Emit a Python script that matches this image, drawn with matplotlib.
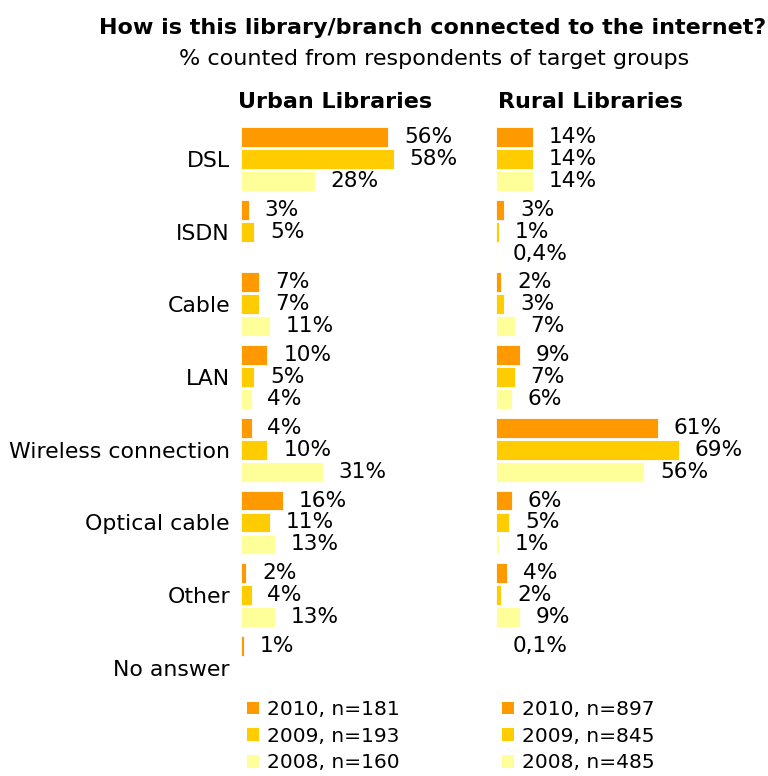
import numpy as np
import matplotlib
matplotlib.use("Agg")
import matplotlib.pyplot as plt
from matplotlib.patches import Patch

plt.rcParams['font.family'] = ['DejaVu Sans']

categories = ["DSL", "ISDN", "Cable", "LAN", "Wireless connection",
              "Optical cable", "Other", "No answer"]
years = ["2010", "2009", "2008"]
colors = ["#FF9900", "#FFCC00", "#FFFF99"]

urban_2010 = [56, 3, 7, 10, 4, 16, 2, 1]
urban_2009 = [58, 5, 7, 5, 10, 11, 4, np.nan]
urban_2008 = [28, np.nan, 11, 4, 31, 13, 13, np.nan]
urban_n = [181, 193, 160]

rural_2010 = [14, 3, 2, 9, 61, 6, 4, 0.1]
rural_2009 = [14, 1, 3, 7, 69, 5, 2, np.nan]
rural_2008 = [14, 0.4, 7, 6, 56, 1, 9, np.nan]
rural_n = [897, 845, 485]

W, H = 768, 776
fig = plt.figure(figsize=(W / 100, H / 100), dpi=100)

FS_CAT = 15.8
FS_VAL = 15.6
FS_LEG = 14.5
FS_HEAD = 16
bar_step = 0.3026
bar_h = 0.275


def fmt(v):
    s = f"{v:g}".replace(".", ",")
    return s + "%"


def panel(left_px, width_px, xmax, series, nvals, show_cats, legend_x):
    y0_px, y1_px = 120, 700
    pitch = 72.7
    vtop = (y0_px - 159) / pitch
    vbot = (y1_px - 159) / pitch
    ax = fig.add_axes([left_px / W, 1 - y1_px / H, width_px / W, (y1_px - y0_px) / H])
    ax.set_xlim(0, xmax)
    ax.set_ylim(vbot, vtop)
    idx = np.arange(len(categories))
    for k, (vals, col) in enumerate(zip(series, colors)):
        ys = idx + (k - 1) * bar_step
        v = np.array(vals, dtype=float)
        ok = ~np.isnan(v)
        ax.barh(ys[ok], v[ok], height=bar_h, color=col, edgecolor="white",
                linewidth=0.6)
        for yy, vv in zip(ys[ok], v[ok]):
            ax.annotate(fmt(vv), (vv, yy), xytext=(11.5, 0),
                        textcoords="offset points", va="center", ha="left",
                        fontsize=FS_VAL)
    for s in ax.spines.values():
        s.set_visible(False)
    ax.set_xticks([])
    if show_cats:
        ax.set_yticks(idx)
        ax.set_yticklabels(categories, fontsize=FS_CAT)
        ax.tick_params(axis="y", length=0, pad=8)
    else:
        ax.set_yticks([])
    handles = [Patch(facecolor=c, edgecolor="none") for c in colors]
    labels = [f"{y}, n={n}" for y, n in zip(years, nvals)]
    fig.legend(handles, labels, loc="upper left",
               bbox_to_anchor=(legend_x / W, 1 - 700 / H),
               frameon=False, fontsize=FS_LEG, handlelength=0.6,
               handleheight=0.6, handletextpad=0.4, labelspacing=0.38,
               borderaxespad=0, borderpad=0)
    return ax


panel(241, 250, 250 / 2.63, [urban_2010, urban_2009, urban_2008],
      urban_n, True, 247)
panel(496, 272, 272 / 2.65, [rural_2010, rural_2009, rural_2008],
      rural_n, False, 502)

fig.text(335 / W, 1 - 102 / H, "Urban Libraries", ha="center", va="center",
         fontsize=FS_HEAD, fontweight="bold")
fig.text(590 / W, 1 - 102 / H, "Rural Libraries", ha="center", va="center",
         fontsize=FS_HEAD, fontweight="bold")
fig.text(433 / W, 1 - 28 / H, "How is this library/branch connected to the internet?",
         ha="center", va="center", fontsize=FS_HEAD, fontweight="bold")
fig.text(434 / W, 1 - 59 / H, "% counted from respondents of target groups",
         ha="center", va="center", fontsize=FS_HEAD)

fig.savefig("out.png", dpi=100)
